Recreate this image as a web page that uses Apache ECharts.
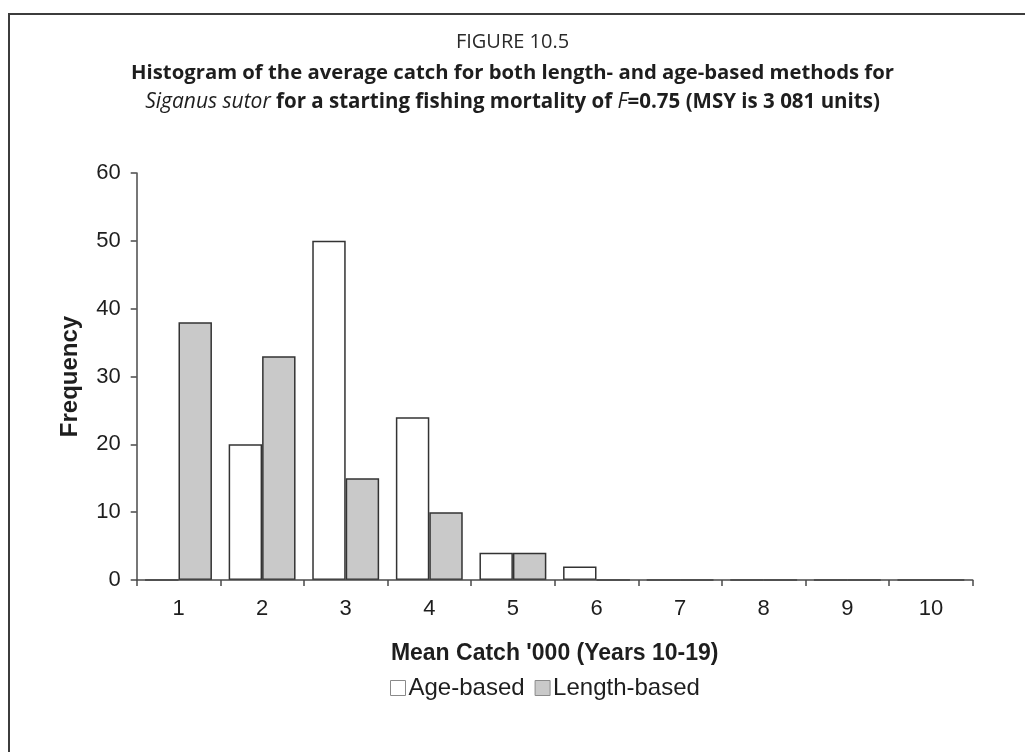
<!DOCTYPE html>
<html>
<head>
<meta charset="utf-8">
<script src="https://cdn.jsdelivr.net/npm/echarts@6/dist/echarts.min.js"></script>
<style>
html,body{margin:0;padding:0;background:#fff;}
#chart{width:1025px;height:752px;}
</style>
</head>
<body>
<div id="chart"></div>
<script>
const categories = ['1','2','3','4','5','6','7','8','9','10'];
const ageBased = [0, 20, 50, 24, 4, 2, 0, 0, 0, 0];
const lengthBased = [38, 33, 15, 10, 4, 0, 0, 0, 0, 0];
const yTicks = {min: 0, max: 60, interval: 10};
const figureLabel = 'FIGURE 10.5';
const titleLine1 = 'Histogram of the average catch for both length- and age-based methods for';
const titleLine2 = '{i|Siganus sutor} for a starting fishing mortality of {i|F}=0.75 (MSY is 3 081 units)';
const xName = "Mean Catch '000 (Years 10-19)";
const yName = 'Frequency';
const seriesNames = ['Age-based', 'Length-based'];

const chart = echarts.init(document.getElementById('chart'), null, {renderer: 'canvas'});
const tf = '"Open Sans", "Noto Sans", sans-serif';
const af = '"Liberation Sans", Arial, sans-serif';
chart.setOption({
  backgroundColor: '#fff',
  animation: false,
  graphic: [{
    type: 'rect',
    shape: {x: 9, y: 14, width: 1040, height: 760},
    style: {fill: 'none', stroke: '#3c3c3c', lineWidth: 2},
    silent: true
  }],
  title: [
    {text: figureLabel, left: 'center', top: 30, padding: 0,
     textStyle: {fontFamily: tf, fontSize: 20, fontWeight: 'normal', color: '#2a2a2a', lineHeight: 24}},
    {text: titleLine1, left: 'center', top: 61, padding: 0,
     textStyle: {fontFamily: tf, fontSize: 20.3, fontWeight: 'bold', color: '#1e1e1e', lineHeight: 24}},
    {text: titleLine2, left: 'center', top: 90, padding: 0,
     textStyle: {fontFamily: tf, fontSize: 20.5, fontWeight: 'bold', color: '#1e1e1e', lineHeight: 24,
       rich: {i: {fontFamily: tf, fontSize: 21, fontStyle: 'italic', fontWeight: 'normal', color: '#1e1e1e', lineHeight: 24}}}}
  ],
  legend: {
    data: seriesNames,
    left: 390, top: 676,
    icon: 'rect', itemWidth: 15, itemHeight: 15, itemGap: 10,
    padding: 0,
    itemStyle: {borderColor: '#8a8a8a', borderWidth: 1},
    textStyle: {fontFamily: af, fontSize: 24, color: '#1e1e1e', padding: [0, 0, 0, -2]}
  },
  grid: {left: 136.7, right: 52.3, top: 173, bottom: 172, containLabel: false},
  xAxis: {
    type: 'category', data: categories, boundaryGap: true, z: 5,
    name: xName, nameLocation: 'middle', nameGap: 62,
    nameTextStyle: {fontFamily: af, fontSize: 23, fontWeight: 'bold', color: '#1e1e1e'},
    axisLine: {lineStyle: {color: '#4a4a4a', width: 1.5}},
    axisTick: {show: true, alignWithLabel: false, interval: 0, length: 6, lineStyle: {color: '#4a4a4a', width: 1.5}},
    axisLabel: {fontFamily: af, fontSize: 22, color: '#1e1e1e', margin: 18, interval: 0},
    splitLine: {show: false}
  },
  yAxis: {
    type: 'value', min: yTicks.min, max: yTicks.max, interval: yTicks.interval, z: 5,
    name: yName, nameLocation: 'middle', nameGap: 54, nameRotate: 90,
    nameTextStyle: {fontFamily: af, fontSize: 24, fontWeight: 'bold', color: '#1e1e1e'},
    axisLine: {show: true, lineStyle: {color: '#4a4a4a', width: 1.5}},
    axisTick: {show: true, length: 6, lineStyle: {color: '#4a4a4a', width: 1.5}},
    axisLabel: {fontFamily: af, fontSize: 22, color: '#1e1e1e', margin: 16},
    splitLine: {show: false}
  },
  series: [
    {name: seriesNames[0], type: 'bar', data: ageBased, barGap: '0%', barCategoryGap: '20%',
     itemStyle: {color: '#ffffff', borderColor: '#333333', borderWidth: 1.5}},
    {name: seriesNames[1], type: 'bar', data: lengthBased, barGap: '0%', barCategoryGap: '20%',
     itemStyle: {color: '#c9c9c9', borderColor: '#333333', borderWidth: 1.5}}
  ]
});
</script>
</body>
</html>
